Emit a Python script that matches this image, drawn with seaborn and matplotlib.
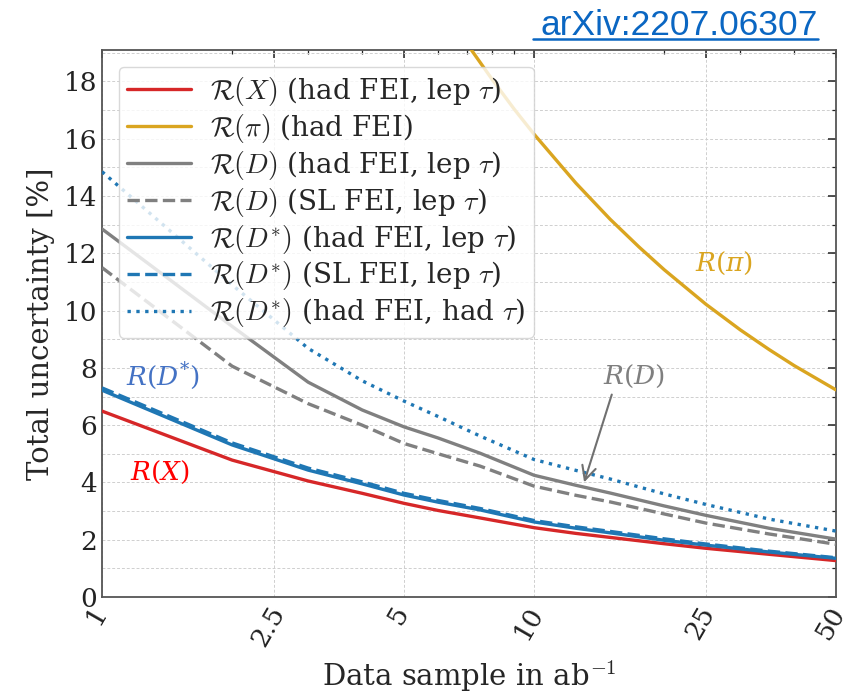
import matplotlib
matplotlib.use("Agg")
import matplotlib.pyplot as plt
import seaborn as sns
import pandas as pd
from matplotlib.ticker import FixedLocator, FixedFormatter, LogLocator, NullFormatter, MultipleLocator
from matplotlib.lines import Line2D
from matplotlib.transforms import ScaledTranslation

# ---------------- data ----------------
lumi = [1, 2, 3, 4, 5, 6, 7.5, 10, 12.5, 15, 20, 25, 35, 50]
r_x_had_lep = [6.49, 4.78, 4.05, 3.62, 3.27, 3.02, 2.76, 2.42, 2.22, 2.08, 1.86, 1.70, 1.49, 1.27]
r_d_had_lep = [12.85, 9.45, 7.5, 6.53, 5.94, 5.55, 5.02, 4.25, 3.9, 3.63, 3.18, 2.85, 2.40, 2.02]
r_d_sl_lep = [11.5, 8.06, 6.75, 6.0, 5.36, 5.0, 4.57, 3.87, 3.55, 3.32, 2.9, 2.58, 2.2, 1.84]
r_ds_had_lep = [7.22, 5.31, 4.43, 3.95, 3.56, 3.31, 3.04, 2.62, 2.40, 2.24, 1.98, 1.81, 1.57, 1.35]
r_ds_sl_lep = [7.30, 5.38, 4.50, 4.02, 3.62, 3.37, 3.09, 2.67, 2.45, 2.29, 2.03, 1.85, 1.60, 1.37]
r_ds_had_had = [14.85, 10.9, 8.68, 7.55, 6.84, 6.3, 5.62, 4.8, 4.42, 4.12, 3.6, 3.23, 2.72, 2.30]

lumi_pi = [5, 6, 7, 8, 9, 10, 12.5, 15, 17.5, 20, 25, 30, 35, 40, 50]
r_pi_had = [22.85, 20.86, 19.31, 18.07, 17.03, 16.16, 14.45, 13.19, 12.22, 11.43, 10.22, 9.33, 8.64, 8.08, 7.23]

series_labels = [
    r"$\mathcal{R}(X)$ (had FEI, lep $\tau$)",
    r"$\mathcal{R}(\pi)$ (had FEI)",
    r"$\mathcal{R}(D)$ (had FEI, lep $\tau$)",
    r"$\mathcal{R}(D)$ (SL FEI, lep $\tau$)",
    r"$\mathcal{R}(D^{*})$ (had FEI, lep $\tau$)",
    r"$\mathcal{R}(D^{*})$ (SL FEI, lep $\tau$)",
    r"$\mathcal{R}(D^{*})$ (had FEI, had $\tau$)",
]
series_x = [lumi, lumi_pi, lumi, lumi, lumi, lumi, lumi]
series_values = [r_x_had_lep, r_pi_had, r_d_had_lep, r_d_sl_lep,
                 r_ds_had_lep, r_ds_sl_lep, r_ds_had_had]
series_colors = ["#d62728", "#daa520", "#808080", "#808080",
                 "#1f77b4", "#1f77b4", "#1f77b4"]
series_styles = ["-", "-", "-", "--", "-", "--", ":"]

xticks = [1, 2.5, 5, 10, 25, 50]
xticklabels = ["1", "2.5", "5", "10", "25", "50"]
yticks = [0, 2, 4, 6, 8, 10, 12, 14, 16, 18]

# ---------------- style ----------------
sns.set_theme(style="white")
plt.rcParams["font.family"] = ["DejaVu Serif"]
plt.rcParams["mathtext.fontset"] = "cm"
plt.rcParams["axes.unicode_minus"] = True

fig = plt.figure(figsize=(8.51, 6.97), dpi=100)
ax = fig.add_axes([0.1199, 0.1435, 0.8625, 0.7848])

for lab, xs, vals, col, ls in zip(series_labels, series_x, series_values,
                                  series_colors, series_styles):
    df = pd.DataFrame({"lumi": xs, "val": vals})
    sns.lineplot(data=df, x="lumi", y="val", color=col, linestyle=ls, lw=2.4,
                 label=lab, ax=ax, zorder=3)

ax.set_xscale("log")
ax.set_xlim(1, 50)
ax.set_ylim(0, 19.1)

ax.xaxis.set_major_locator(FixedLocator(xticks))
ax.xaxis.set_major_formatter(FixedFormatter(xticklabels))
ax.xaxis.set_minor_locator(LogLocator(base=10, subs=[2, 3, 4, 6, 7, 8, 9]))
ax.xaxis.set_minor_formatter(NullFormatter())
ax.yaxis.set_major_locator(FixedLocator(yticks))
ax.yaxis.set_minor_locator(MultipleLocator(1))

grid_kw = dict(color="#cfcfcf", lw=0.7, dashes=(3, 2), zorder=0)
ax.grid(which="major", axis="x", **grid_kw)
ax.grid(which="both", axis="y", **grid_kw)

ax.tick_params(which="both", direction="in", top=True, right=True, colors="#222222")
ax.tick_params(which="major", length=6, width=1.1, labelsize=19)
ax.tick_params(which="minor", length=3, width=0.9)
for sp in ax.spines.values():
    sp.set_color("#555555")
    sp.set_linewidth(1.3)

ax.set_xlabel(r"Data sample in ab$^{-1}$", fontsize=21, labelpad=6)
ax.set_ylabel("Total uncertainty [%]", fontsize=21, labelpad=6)

leg = ax.legend(loc="upper left", fontsize=20, handlelength=2.3, handletextpad=0.7,
                borderaxespad=0.6, framealpha=0.8, edgecolor="#d0d0d0", fancybox=True,
                borderpad=0.3, labelspacing=0.14)
leg.set_zorder(5)

# curve annotations
ax.text(1.38, 7.75, r"$R(D^{*})$", color="#4472c4", fontsize=19, ha="center", va="center",
        math_fontfamily="dejavuserif", zorder=6)
ax.text(1.36, 4.36, r"$R(X)$", color="#ff0000", fontsize=19, ha="center", va="center",
        math_fontfamily="dejavuserif", zorder=6)
ax.text(27.5, 11.66, r"$R(\pi)$", color="#daa520", fontsize=19, ha="center", va="center",
        math_fontfamily="dejavuserif", zorder=6)
ax.text(17.0, 7.71, r"$R(D)$", color="#7f7f7f", fontsize=19, ha="center", va="center",
        math_fontfamily="dejavuserif", zorder=6)
ax.annotate("", xy=(13.0, 3.91), xytext=(15.2, 7.16),
            arrowprops=dict(arrowstyle="->", color="#707070", lw=1.5,
                            mutation_scale=25), zorder=6)

# arXiv reference
fig.text(818 / 851, 1 - 35 / 697, "arXiv:2207.06307", color="#0a66c2", fontsize=25.5,
         family="Liberation Sans", ha="right", va="baseline")
fig.add_artist(Line2D([533 / 851, 818 / 851], [1 - 39 / 697, 1 - 39 / 697],
                      color="#0a66c2", lw=1.8, transform=fig.transFigure))

# rotated x tick labels, nudged slightly left as in the reference
shift = ScaledTranslation(-4 / 72, 0, fig.dpi_scale_trans)
for lbl in ax.get_xticklabels():
    lbl.set_rotation(60)
    lbl.set_ha("center")
    lbl.set_transform(lbl.get_transform() + shift)

fig.savefig("out.png", dpi=100)
